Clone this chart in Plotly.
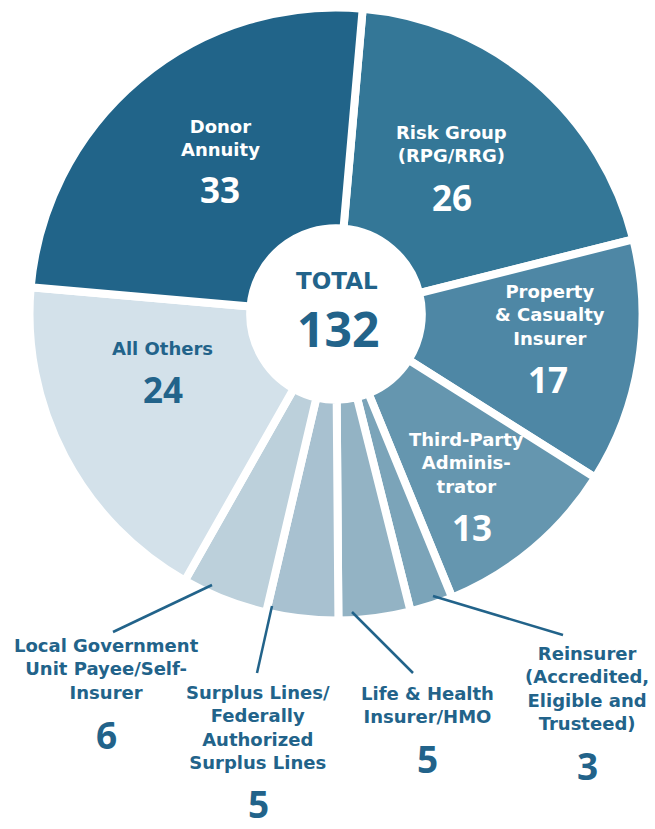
import plotly.graph_objects as go

W, H = 655, 829

# ---- data (clockwise from 12 o'clock) ----
categories = [
    "Risk Group (RPG/RRG)",
    "Property & Casualty Insurer",
    "Third-Party Administrator",
    "Reinsurer (Accredited, Eligible and Trusteed)",
    "Life & Health Insurer/HMO",
    "Surplus Lines/Federally Authorized Surplus Lines",
    "Local Government Unit Payee/Self-Insurer",
    "All Others",
    "Donor Annuity",
]
values = [26, 17, 13, 3, 5, 5, 6, 24, 33]
display_names = [
    "Risk Group<br>(RPG/RRG)",
    "Property<br>& Casualty<br>Insurer",
    "Third-Party<br>Adminis-<br>trator",
    "Reinsurer<br>(Accredited,<br>Eligible and<br>Trusteed)",
    "Life & Health<br>Insurer/HMO",
    "Surplus Lines/<br>Federally<br>Authorized<br>Surplus Lines",
    "Local Government<br>Unit Payee/Self-<br>Insurer",
    "All Others",
    "Donor<br>Annuity",
]
total_label = "TOTAL"

# ---- styles ----
colors = ["#347797", "#4E87A5", "#6596AF", "#7BA4B9", "#93B3C4",
          "#A8C1D0", "#BCD0DB", "#D3E1EA", "#216489"]
dark = "#22638A"
white = "#FFFFFF"
label_colors = [white, white, white, dark, dark, dark, dark, dark, white]
NAME_FONT = "DejaVu Sans"
NUM_FONT = "Open Sans"

# label placement in pixels (layout only): name first-line centre, number centre
name_pos = [
    (452, 134), (550, 294), (466, 442), (587, 655), (428, 695),
    (258, 694), (107, 647), (162, 350), (220, 128),
]
num_pos = [
    (452, 197), (548, 379), (472, 527), (587, 765), (428, 758),
    (258, 803), (107, 734), (163, 389), (220, 190),
]
# leader lines for outside labels: index -> ((x0,y0),(x1,y1)) in pixels
leaders = {
    3: ((433, 596), (563, 635)),
    4: ((352, 612), (413, 673)),
    5: ((272, 606), (257, 673)),
    6: ((212, 585), (113, 632)),
}

cx, cy, R = 336, 314, 302
LINE_W = 8

def px(x):
    return x / W

def py(y):
    return 1 - y / H

Rd = R + LINE_W / 2 + 0.5
fig = go.Figure(go.Pie(
    labels=categories,
    values=values,
    sort=False,
    direction="clockwise",
    rotation=5,
    hole=0.28,
    marker=dict(colors=colors, line=dict(color=white, width=LINE_W)),
    textinfo="none",
    hoverinfo="label+value",
    domain=dict(x=[px(cx - Rd), px(cx + Rd)], y=[py(cy + Rd), py(cy - Rd)]),
    showlegend=False,
))

annotations = []
for i, (name, v) in enumerate(zip(display_names, values)):
    x, y = name_pos[i]
    annotations.append(dict(
        x=px(x), y=py(y - 14.5), xref="paper", yref="paper", xanchor="center", yanchor="top",
        text=f"<b>{name}</b>", showarrow=False, align="center",
        font=dict(family=NAME_FONT, size=18, color=label_colors[i]),
    ))
    outside = i in leaders
    nx, ny = num_pos[i]
    annotations.append(dict(
        x=px(nx), y=py(ny), xref="paper", yref="paper",
        xanchor="center", yanchor="middle",
        text=f"<b>{v}</b>", showarrow=False,
        font=dict(family=NUM_FONT, size=37 if outside else 35, color=label_colors[i]),
    ))

annotations.append(dict(x=px(337), y=py(281), xref="paper", yref="paper", yanchor="middle",
                        text=f"<b>{total_label}</b>", showarrow=False,
                        font=dict(family=NAME_FONT, size=23, color=dark)))
annotations.append(dict(x=px(338), y=py(328), xref="paper", yref="paper", yanchor="middle",
                        text=f"<b>{sum(values)}</b>", showarrow=False,
                        font=dict(family=NUM_FONT, size=48, color=dark)))

shapes = []
for i, ((x0, y0), (x1, y1)) in leaders.items():
    shapes.append(dict(type="line", xref="paper", yref="paper",
                       x0=px(x0), y0=py(y0), x1=px(x1), y1=py(y1),
                       line=dict(color=dark, width=2.5)))

fig.update_layout(
    width=W, height=H,
    margin=dict(l=0, r=0, t=0, b=0),
    paper_bgcolor=white, plot_bgcolor=white,
    annotations=annotations, shapes=shapes,
)

fig.write_html("out.html", config={"displayModeBar": False},
               post_script="document.body.style.margin='0px';")
